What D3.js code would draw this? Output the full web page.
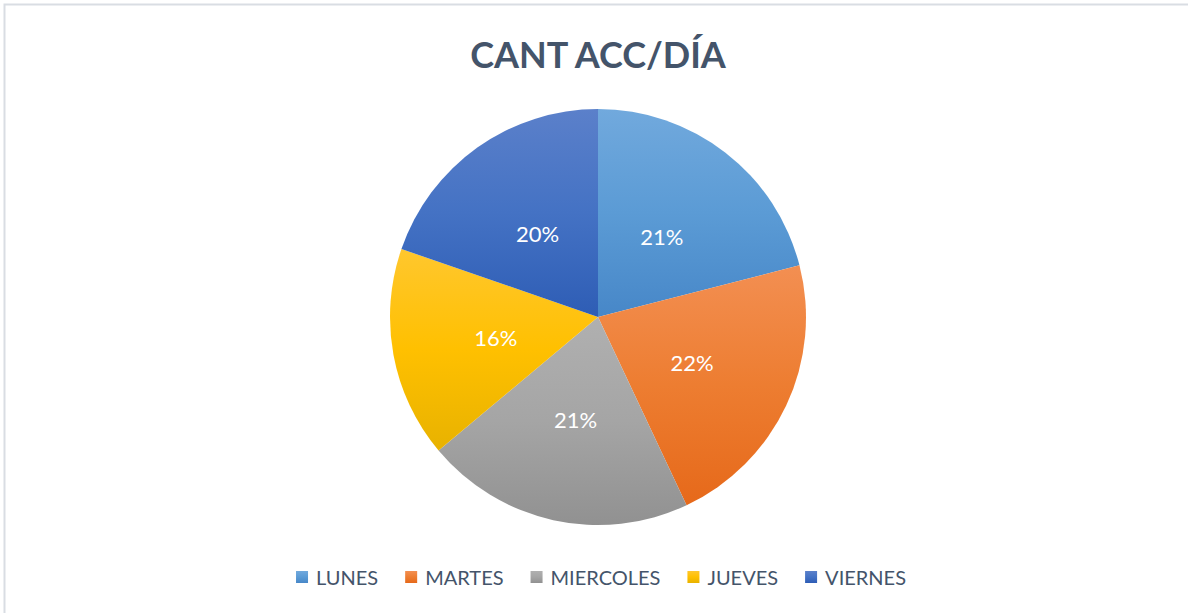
<!DOCTYPE html>
<html>
<head>
<meta charset="utf-8">
<script src="https://cdn.jsdelivr.net/npm/d3@7"></script>
<style>
	body { margin: 0; background: #fff; }
	svg { display: block; }
</style>
</head>
<body>
<script>

// data
var dias = ['LUNES', 'MARTES', 'MIERCOLES', 'JUEVES', 'VIERNES'];
var valores = [21.0, 22.0, 20.9, 16.4, 19.7];
var titulo = 'CANT ACC/DÍA';

// slice colours (top / base / bottom of the gradient)
var colTop = ['#71a9dd', '#f38f52', '#b0b0b0', '#ffc72e', '#5b80ca'];
var colBase = ['#5b9bd5', '#ed7d31', '#a5a5a5', '#ffc000', '#4472c4'];
var colBottom = ['#4787c8', '#e6691a', '#919191', '#e8b200', '#2e5db5'];

var width = 1188,
	height = 613,
	cx = 598,
	cy = 317,
	radius = 208;

var svg = d3.select('body').append('svg')
	.attr('width', width)
	.attr('height', height);

// chart frame (only top and left edges are visible in the crop)
svg.append('rect')
	.attr('x', 4.5)
	.attr('y', 4.5)
	.attr('width', width + 10)
	.attr('height', height + 10)
	.attr('fill', 'none')
	.attr('stroke', '#d9dde3')
	.attr('stroke-width', 2);

var defs = svg.append('defs');
dias.forEach(function(d, i) {
	var grad = defs.append('linearGradient')
		.attr('id', 'grad' + i)
		.attr('x1', 0).attr('y1', 0)
		.attr('x2', 0).attr('y2', 1);
	grad.append('stop').attr('offset', '0%').attr('stop-color', colTop[i]);
	grad.append('stop').attr('offset', '50%').attr('stop-color', colBase[i]);
	grad.append('stop').attr('offset', '100%').attr('stop-color', colBottom[i]);
});

// title
svg.append('text')
	.attr('x', cx)
	.attr('y', 68)
	.attr('text-anchor', 'middle')
	.style('font-family', 'Lato, "Open Sans", sans-serif')
	.style('font-weight', 'bold')
	.style('font-size', '36px')
	.attr('fill', '#44546a')
	.text(titulo);

var pie = d3.pie()
	.sort(null)
	.value(function(d) { return d; });

var arc = d3.arc()
	.innerRadius(0)
	.outerRadius(radius);

var arcs = pie(valores);
var total = d3.sum(valores);

var g = svg.append('g')
	.attr('transform', 'translate(' + cx + ',' + cy + ')');

g.selectAll('path')
	.data(arcs)
	.enter().append('path')
	.attr('d', arc)
	.attr('fill', function(d, i) { return 'url(#grad' + i + ')'; });

g.selectAll('text.lbl')
	.data(arcs)
	.enter().append('text')
	.attr('class', 'lbl')
	.attr('transform', function(d) { return 'translate(' + arc.centroid(d) + ')'; })
	.attr('dy', '0.45em')
	.attr('text-anchor', 'middle')
	.style('font-family', 'Lato, "Open Sans", sans-serif')
	.style('font-size', '22px')
	.attr('fill', '#fff')
	.text(function(d) { return Math.round(d.value / total * 100) + '%'; });

// legend, laid out from measured text widths and centred
var legend = svg.append('g');
var items = legend.selectAll('g')
	.data(dias)
	.enter().append('g');

items.append('rect')
	.attr('y', 571)
	.attr('width', 12)
	.attr('height', 12)
	.attr('fill', function(d, i) { return 'url(#grad' + i + ')'; });

items.append('text')
	.attr('x', 20)
	.attr('y', 585)
	.style('font-family', 'Lato, "Open Sans", sans-serif')
	.style('font-size', '20px')
	.attr('fill', '#44546a')
	.text(function(d) { return d; });

var xPos = 0;
items.each(function() {
	var w = d3.select(this).select('text').node().getComputedTextLength();
	d3.select(this).attr('transform', 'translate(' + xPos + ',0)');
	xPos += 20 + w + 27;
});
var legendWidth = xPos - 27;
legend.attr('transform', 'translate(' + (601 - legendWidth / 2) + ',0)');

</script>
</body>
</html>
